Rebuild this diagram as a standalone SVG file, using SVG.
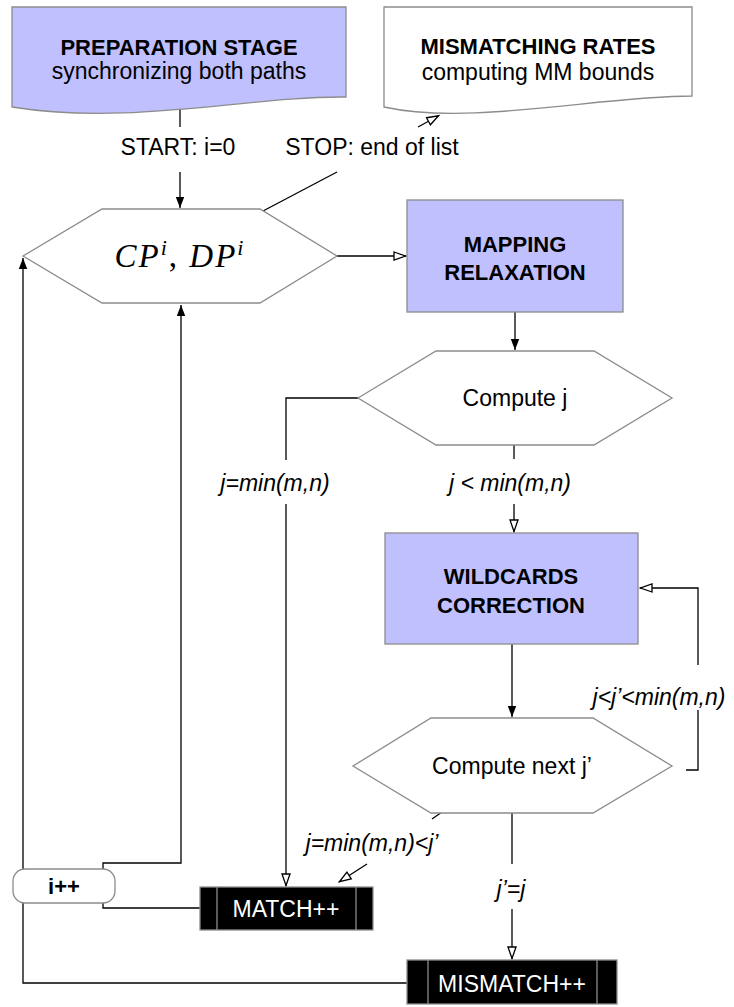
<svg xmlns="http://www.w3.org/2000/svg" width="734" height="1007" viewBox="0 0 734 1007">
<style>
  .shape { stroke: #8c8c8c; stroke-width: 1.3; }
  .blue { fill: #c0c0ff; }
  .white { fill: #ffffff; }
  .proc { fill: #000000; stroke: #8c8c8c; stroke-width: 1.3; }
  .edge { fill: none; stroke: #000000; stroke-width: 1.3; }
  .t { font-family: "Liberation Sans", Arial, Helvetica, sans-serif; font-size: 23px; fill: #000; text-anchor: middle; }
  .b { font-weight: bold; font-size: 22px; }
  .i { font-style: italic; }
  .w { fill: #ffffff; }
</style>
<defs>
  <marker id="af" markerWidth="12" markerHeight="10" refX="11" refY="5" orient="auto" markerUnits="userSpaceOnUse">
    <path d="M0,0.8 L11,5 L0,9.2 Z" fill="#000"/>
  </marker>
  <marker id="ao" markerWidth="15" markerHeight="11" refX="13" refY="5.5" orient="auto" markerUnits="userSpaceOnUse">
    <path d="M1,1.5 L12.5,5.5 L1,9.5 Z" fill="#fff" stroke="#000" stroke-width="1.3"/>
  </marker>
</defs>

<g id="connectors">
  <line class="edge" x1="180" y1="108" x2="180" y2="127"/>
  <line class="edge" x1="180" y1="172" x2="180" y2="208" marker-end="url(#af)"/>
  <line class="edge" x1="263" y1="211" x2="337" y2="172"/>
  <line class="edge" x1="418" y1="127" x2="439" y2="115.5" marker-end="url(#ao)"/>
  <line class="edge" x1="337" y1="256" x2="406" y2="256" marker-end="url(#ao)"/>
  <line class="edge" x1="515" y1="312" x2="515" y2="350" marker-end="url(#af)"/>
  <path class="edge" d="M358,398 H286 V460"/>
  <path class="edge" d="M286,504 V886" marker-end="url(#ao)"/>
  <line class="edge" x1="514" y1="445" x2="514" y2="459"/>
  <line class="edge" x1="514" y1="504" x2="514" y2="532" marker-end="url(#ao)"/>
  <line class="edge" x1="512" y1="644" x2="512" y2="717" marker-end="url(#af)"/>
  <path class="edge" d="M686,770 H698 V710"/>
  <path class="edge" d="M698,665 V588 H640" marker-end="url(#ao)"/>
  <line class="edge" x1="442" y1="812" x2="432" y2="819"/>
  <line class="edge" x1="367" y1="864" x2="339" y2="882" marker-end="url(#ao)"/>
  <line class="edge" x1="512" y1="813" x2="512" y2="864"/>
  <line class="edge" x1="512" y1="909" x2="512" y2="959" marker-end="url(#ao)"/>
  <path class="edge" d="M200,908 H103 V903"/>
  <path class="edge" d="M103,869 V863 H181 V305" marker-end="url(#af)"/>
  <path class="edge" d="M407,983 H23 V258" marker-end="url(#af)"/>
</g>

<g id="labels">
  <text class="t" x="178" y="155">START: i=0</text>
  <text class="t" x="372" y="155">STOP: end of list</text>
  <text class="t i" x="275" y="491">j=min(m,n)</text>
  <text class="t i" x="510" y="491">j &lt; min(m,n)</text>
  <text class="t i" x="659" y="705">j&lt;j’&lt;min(m,n)</text>
  <text class="t i" x="372" y="851">j=min(m,n)&lt;j’</text>
  <text class="t i" x="511" y="897">j’=j</text>
</g>

<g id="preparation">
  <path class="shape blue" d="M12,7 H346 V97 C250,96 130,126 12,107 Z"/>
  <text class="t b" x="179" y="55">PREPARATION STAGE</text>
  <text class="t" x="179" y="79">synchronizing both paths</text>
</g>

<g id="mismatching-rates">
  <path class="shape white" d="M384,7 H692 V96 C600,96 470,126 384,107 Z"/>
  <text class="t b" x="538" y="54">MISMATCHING RATES</text>
  <text class="t" x="538" y="80">computing MM bounds</text>
</g>

<g id="cp-dp">
  <polygon class="shape white" points="23,256 102,209 260,209 337,256 260,303 102,303"/>
  <text x="180" y="267" font-family="Liberation Serif, 'Times New Roman', serif" font-style="italic" font-size="33" text-anchor="middle" letter-spacing="2">CP<tspan dy="-12" font-size="22">i</tspan><tspan dy="12" font-style="normal">, </tspan>DP<tspan dy="-12" font-size="22">i</tspan></text>
</g>

<g id="mapping-relaxation">
  <rect class="shape blue" x="407" y="200" width="216" height="112"/>
  <text class="t b" x="515" y="252">MAPPING</text>
  <text class="t b" x="515" y="280">RELAXATION</text>
</g>

<g id="compute-j">
  <polygon class="shape white" points="358,398 436,351 594,351 672,398 594,445 436,445"/>
  <text class="t" x="515" y="406">Compute j</text>
</g>

<g id="wildcards-correction">
  <rect class="shape blue" x="385" y="533" width="253" height="111"/>
  <text class="t b" x="511" y="584">WILDCARDS</text>
  <text class="t b" x="511" y="613">CORRECTION</text>
</g>

<g id="compute-next-j">
  <polygon class="shape white" points="353,766 431,718 593,718 672,766 593,813 431,813"/>
  <text class="t" x="512" y="774">Compute next j’</text>
</g>

<g id="i-plus-plus">
  <rect class="shape white" x="13" y="869" width="102" height="34" rx="12" ry="12"/>
  <text class="t b" x="64" y="894">i++</text>
</g>

<g id="match">
  <rect class="proc" x="200" y="887" width="173" height="43"/>
  <line class="shape" x1="217" y1="887" x2="217" y2="930"/>
  <line class="shape" x1="356" y1="887" x2="356" y2="930"/>
  <text class="t w" x="286" y="917">MATCH++</text>
</g>

<g id="mismatch">
  <rect class="proc" x="407" y="960" width="210" height="44"/>
  <line class="shape" x1="428" y1="960" x2="428" y2="1004"/>
  <line class="shape" x1="597" y1="960" x2="597" y2="1004"/>
  <text class="t w" x="512" y="992">MISMATCH++</text>
</g>
</svg>
